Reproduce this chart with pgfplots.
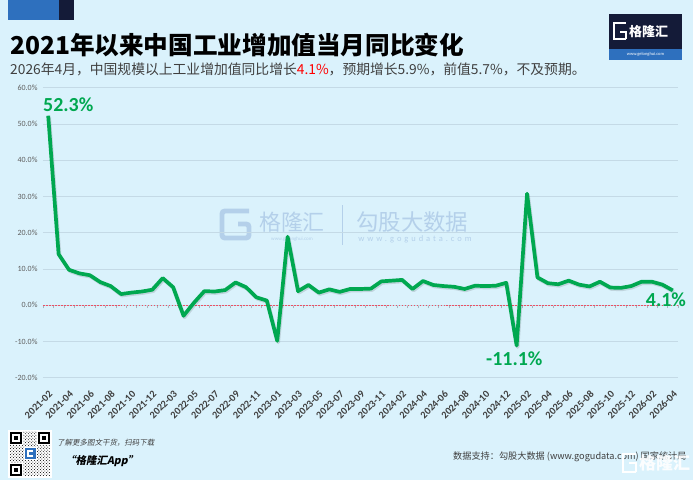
\documentclass[border=0pt]{standalone}
\usepackage{fontspec}
\setmainfont{Carlito}
\newfontfamily\cjk{Noto Sans CJK SC}
\newfontfamily\cjki{Noto Sans CJK SC}[FakeSlant=0.2]
\newfontfamily\wmfont{Carlito}[LetterSpace=35]
\usepackage{pgfplots}
\usepackage{pgfplotstable}
\pgfplotsset{compat=1.18}
\usetikzlibrary{patterns}
\definecolor{bg}{RGB}{218,242,252}
\definecolor{lgreen}{RGB}{0,168,80}
\definecolor{navy}{RGB}{20,27,56}
\definecolor{lblue}{RGB}{46,112,190}
\definecolor{wm}{RGB}{180,208,234}
\definecolor{gridc}{RGB}{196,218,230}
\definecolor{labgray}{RGB}{64,64,64}
\definecolor{tickgray}{RGB}{95,95,95}
\definecolor{zred}{RGB}{235,80,100}
\definecolor{tickc}{RGB}{165,180,190}

\pgfplotstableread{
x y
0 52.3
1 14.1
2 9.8
3 8.8
4 8.3
5 6.4
6 5.3
7 3.1
8 3.5
9 3.8
10 4.3
11 7.5
12 5.0
13 -2.9
14 0.7
15 3.9
16 3.8
17 4.2
18 6.3
19 5.0
20 2.2
21 1.3
22 -9.8
23 18.9
24 3.9
25 5.6
26 3.5
27 4.4
28 3.7
29 4.5
30 4.5
31 4.6
32 6.6
33 6.8
34 7.0
35 4.5
36 6.7
37 5.6
38 5.3
39 5.1
40 4.5
41 5.4
42 5.3
43 5.4
44 6.2
45 -11.1
46 30.8
47 7.7
48 6.1
49 5.8
50 6.8
51 5.7
52 5.2
53 6.5
54 4.9
55 4.8
56 5.3
57 6.5
58 6.5
59 5.7
60 4.1
}\ipdata

\begin{document}
\begin{tikzpicture}[x=1bp,y=1bp]
\fill[bg] (0,0) rectangle (693,480);
% top-left blocks
\fill[lblue] (8,460) rectangle (59,480);
\fill[navy] (59,460) rectangle (74,480);
% title and subtitle
\node[anchor=base west, inner sep=0] at (10,425) {\cjk\bfseries\fontsize{24.7}{28}\selectfont 2021年以来中国工业增加值当月同比变化};
\node[anchor=base west, inner sep=0, text=labgray] at (10,405) {\cjk\fontsize{13.85}{16}\selectfont 2026年4月，中国规模以上工业增加值同比增长\textcolor{red}{4.1\%}，预期增长5.9\%，前值5.7\%，不及预期。};
% top-right logo
\fill[navy] (609,431) rectangle (682,466);
\fill[lblue] (609,420) rectangle (682,431);
\draw[white, line width=2.2] (626,441) -- (614,441) -- (614,457) -- (626,457);
\draw[white, line width=2.2] (620,448) -- (626,448) -- (626,441);
\node[anchor=west, inner sep=0, text=white] at (629,448.5) {\cjk\bfseries\fontsize{13}{14}\selectfont 格隆汇};
\node[inner sep=0, text=white] at (645.5,425.5) {\fontsize{4.5}{5}\selectfont www.gelonghui.com};
% centre watermark
\draw[wm, line width=5, rounded corners=3] (249,269) -- (222,269) -- (222,242) -- (249,242) -- (249,256) -- (238,256);
\node[inner sep=0, text=wm] at (292,258) {\cjk\fontsize{22}{24}\selectfont 格隆汇};
\node[inner sep=0, text=wm] at (292,241) {\fontsize{5}{6}\selectfont www.gelonghui.com};
\draw[wm, line width=0.8] (342,235) -- (342,275);
\node[anchor=west, inner sep=0, text=wm] at (356,258) {\cjk\fontsize{22.5}{24}\selectfont 勾股大数据};
\node[inner sep=0, text=wm] at (415,241) {\wmfont\fontsize{8.5}{9}\selectfont www.gogudata.com};

\begin{axis}[at={(48.2bp,174.7bp)}, anchor=origin, width=635bp, height=290bp, scale only axis,
  xmin=-0.5, xmax=60.5, ymin=-20, ymax=60,
  axis x line=middle, axis y line=none, axis line style={draw=none},
  xtick={-0.5,0.5,...,60.5}, xticklabels={}, tick align=outside,
  major tick length=3bp, tick style={tickc, line width=0.5pt}]
\addplot[draw=none] coordinates {(0,0) (60,0)};
\end{axis}

\begin{axis}[at={(48.2bp,174.7bp)}, anchor=origin, width=635bp, height=290bp, scale only axis,
  xmin=-0.5, xmax=60.5, ymin=-20, ymax=60,
  ytick={-20,-10,...,60}, ymajorgrids, major grid style={gridc, line width=0.8pt},
  axis line style={draw=none}, major tick length=0pt,
  xtick={0,2,...,60},
  xticklabels={2021-02,2021-04,2021-06,2021-08,2021-10,2021-12,2022-03,2022-05,2022-07,2022-09,2022-11,2023-01,2023-03,2023-05,2023-07,2023-09,2023-11,2024-02,2024-04,2024-06,2024-08,2024-10,2024-12,2025-02,2025-04,2025-06,2025-08,2025-10,2025-12,2026-02,2026-04},
  /pgf/number format/assume math mode=true,
  yticklabel={\pgfmathprintnumber[fixed,fixed zerofill,precision=1]{\tick}\%},
  y tick label style={font=\fontsize{8}{9}\selectfont, text=tickgray, xshift=-2bp},
  xticklabel shift=12bp,
  x tick label style={rotate=45, anchor=north east, inner sep=0pt, font=\bfseries\fontsize{10.3}{11}\selectfont, text=labgray},
  extra y ticks={0}, extra y tick labels={},
  extra y tick style={grid=major, major grid style={zred, dash pattern=on 1.8pt off 1.2pt, line width=0.7pt}},
  clip=false]
\addplot[black, opacity=0.12, line width=3.6bp, line join=round, shift={(1bp,-1.5bp)}] table[x=x,y=y] {\ipdata};
\addplot[lgreen, line width=3.7bp, line join=round] table[x=x,y=y] {\ipdata};
\node[anchor=west, inner sep=0, text=lgreen] at (axis cs:-0.5,55.4) {\bfseries\fontsize{20}{22}\selectfont 52.3\%};
\node[anchor=west, inner sep=0, text=lgreen] at (axis cs:42.06,-14.8) {\bfseries\fontsize{20}{22}\selectfont -11.1\%};
\node[anchor=west, inner sep=0, text=lgreen] at (axis cs:57.4,1.5) {\bfseries\fontsize{20}{22}\selectfont 4.1\%};
\end{axis}

% QR code
\fill[white] (8,2) rectangle (52,50);
\fill[pattern=crosshatch dots, pattern color=black] (10,4) rectangle (50,48);
\foreach \qx/\qy in {10/36, 38/36, 10/4}{
  \fill[white] (\qx-1,\qy-1) rectangle (\qx+13,\qy+13);
  \fill[black] (\qx,\qy) rectangle (\qx+12,\qy+12);
  \fill[white] (\qx+2,\qy+2) rectangle (\qx+10,\qy+10);
  \fill[black] (\qx+4,\qy+4) rectangle (\qx+8,\qy+8);
}
\fill[white] (24,20) rectangle (37,33);
\fill[lblue] (25,21) rectangle (36,32);
\draw[white, line width=1.3] (33,24) -- (28,24) -- (28,29) -- (33,29);
% bottom texts
\node[anchor=west, inner sep=0, text=labgray] at (57,37) {\cjki\fontsize{7.5}{8}\selectfont 了解更多图文干货，扫码下载};
\node[anchor=west, inner sep=0, text=black] at (65,19) {\cjki\bfseries\fontsize{10.5}{12}\selectfont “格隆汇App”};
\node[anchor=west, inner sep=0, text=labgray] at (453,23) {\cjk\fontsize{9.2}{10}\selectfont 数据支持：勾股大数据 (www.gogudata.com) 国家统计局};
% bottom-right watermark
\draw[white, line width=2.6] (636,8) -- (623,8) -- (623,26) -- (636,26);
\draw[white, line width=2.6] (629,17) -- (636,17) -- (636,8);
\node[anchor=west, inner sep=0, text=white, opacity=0.9] at (639,17) {\cjk\bfseries\fontsize{17}{18}\selectfont 格隆汇};
\pgfresetboundingbox
\path (0,0) rectangle (693,480);
\end{tikzpicture}
\end{document}
